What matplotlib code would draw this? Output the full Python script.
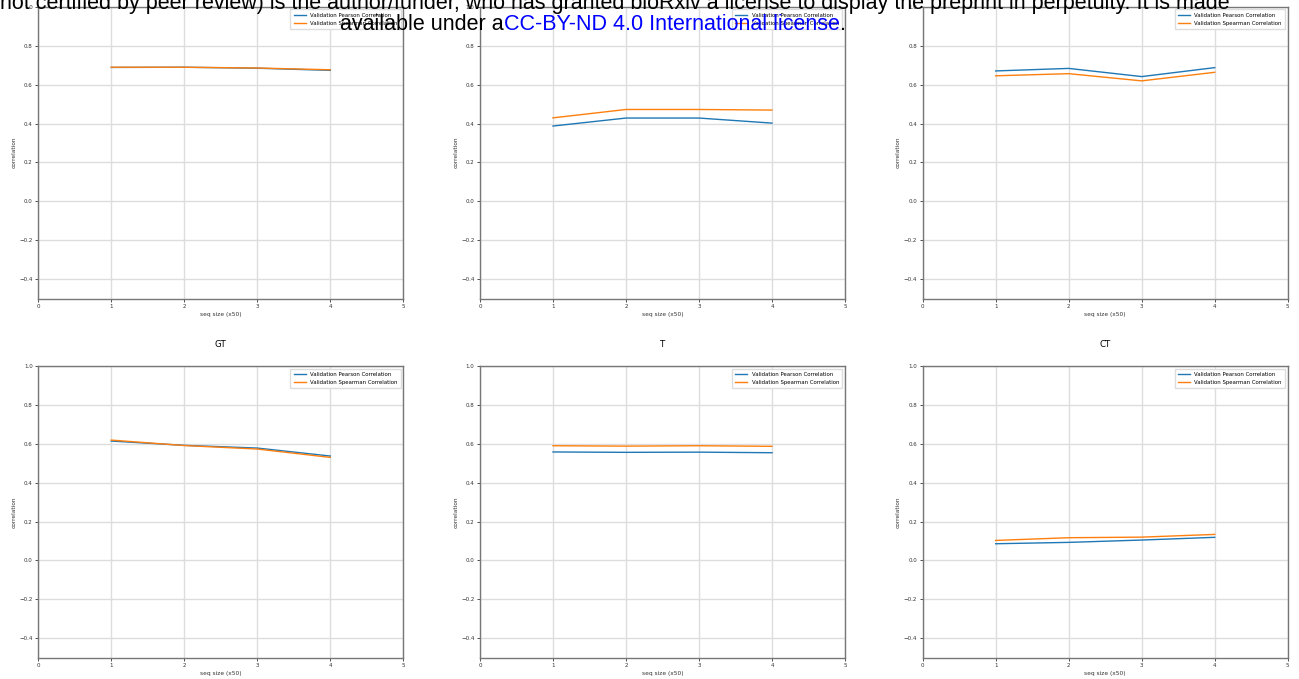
import numpy as np
import matplotlib
matplotlib.use('Agg')
import matplotlib.pyplot as plt

# data
seq_sizes = [1, 2, 3, 4]
panel_titles = ['', '', '', 'GT', 'T', 'CT']

pearson_vals = [
    [0.688, 0.689, 0.684, 0.673],
    [0.387, 0.428, 0.428, 0.402],
    [0.670, 0.683, 0.641, 0.687],
    [0.614, 0.592, 0.578, 0.537],
    [0.558, 0.556, 0.557, 0.554],
    [0.086, 0.093, 0.105, 0.119],
]
spearman_vals = [
    [0.689, 0.689, 0.685, 0.676],
    [0.429, 0.472, 0.472, 0.469],
    [0.645, 0.656, 0.619, 0.663],
    [0.619, 0.591, 0.573, 0.530],
    [0.590, 0.588, 0.590, 0.587],
    [0.103, 0.117, 0.120, 0.134],
]

y_ticks = [-0.4, -0.2, 0.0, 0.2, 0.4, 0.6, 0.8, 1.0]
x_ticks = [0, 1, 2, 3, 4, 5]

W, H = 1299, 679
fig = plt.figure(figsize=(W / 100, H / 100), dpi=100)

# axes boxes in pixels (left, top, width, height)
col_left = [38.3, 480.0, 922.7]
col_w = 365.0
row_top = [6.7, 366.0]
row_h = [292.0, 291.7]

for i in range(6):
    r, c = divmod(i, 3)
    left = col_left[c] / W
    bottom = 1 - (row_top[r] + row_h[r]) / H
    ax = fig.add_axes([left, bottom, col_w / W, row_h[r] / H])

    ax.plot(seq_sizes, pearson_vals[i], color='tab:blue', lw=1.0,
            label='Validation Pearson Correlation')
    ax.plot(seq_sizes, spearman_vals[i], color='tab:orange', lw=1.0,
            label='Validation Spearman Correlation')

    ax.set_xlim(0, 5)
    ax.set_ylim(-0.5, 1.0)
    ax.set_xticks(x_ticks)
    ax.set_yticks(y_ticks)
    ax.tick_params(labelsize=4.0, length=2, width=0.6, pad=2, colors='#333333')
    ax.grid(True, color='#dddddd', lw=1.0)
    for s in ax.spines.values():
        s.set_color('#777777')
        s.set_linewidth(1.0)

    ax.set_xlabel('seq size (x50)', fontsize=4.2, labelpad=2, color='#333333')
    ax.set_ylabel('correlation', fontsize=4.2, labelpad=2, color='#333333')
    if panel_titles[i]:
        ax.set_title(panel_titles[i], fontsize=6.2, pad=14)
    ax.legend(loc='upper right', fontsize=3.9, handlelength=2.2,
              borderpad=0.6, labelspacing=0.6, framealpha=1.0,
              edgecolor='#dddddd', fancybox=False)

# preprint header laid over the top of the page
hdr = dict(fontsize=15.5, family='Liberation Sans', va='baseline')
fig.text(0.0, 1 - 9.3 / H,
         'not certified by peer review) is the author/funder, who has granted '
         'bioRxiv a license to display the preprint in perpetuity. It is made',
         ha='left', color='black', **hdr)
t1 = fig.text(340 / W, 1 - 30 / H, 'available under a', ha='left',
              color='black', **hdr)
t2 = plt.annotate('CC-BY-ND 4.0 International license', xy=(1, 0),
                  xycoords=t1, va='bottom', ha='left', color='#0000ff',
                  fontsize=15.5, family='Liberation Sans')
plt.annotate('.', xy=(1, 0), xycoords=t2, va='bottom', ha='left',
             color='black', fontsize=15.5, family='Liberation Sans')

fig.savefig('out.png', dpi=100)
